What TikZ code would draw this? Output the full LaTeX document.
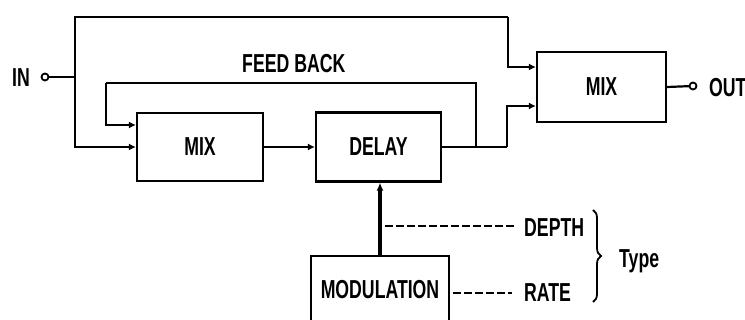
\documentclass[tikz,border=0pt]{standalone}
\usepackage{fontspec}
\setmainfont{Liberation Sans}
\newfontfamily\labfont[FakeStretch=0.68]{Liberation Sans Bold}
\usetikzlibrary{arrows.meta,decorations.pathreplacing}
\begin{document}
\begin{tikzpicture}[x=1pt,y=-1pt,
  txt/.style={font=\labfont\fontsize{26}{28}\selectfont},
  block/.style={draw, line width=2.2pt, inner sep=0pt, txt},
  lbl/.style={inner sep=0pt, anchor=base west, txt},
  wire/.style={line width=2.2pt},
  arr/.style={wire, -{Latex[length=7pt,width=7pt]}},
  dsh/.style={line width=1.8pt, dash pattern=on 8pt off 3pt},
  port/.style={circle, draw, line width=1.8pt, minimum size=7pt, inner sep=0pt, fill=white}]
\useasboundingbox (0,0) rectangle (745,320);
\clip (0,0) rectangle (745,320);
% blocks
\node[block, minimum width=126pt, minimum height=68pt] (mix1) at (200,147) {MIX};
\node[block, minimum width=125pt, minimum height=69pt] (delay) at (378.5,147) {DELAY};
\node[block, minimum width=129pt, minimum height=70pt] (mix2) at (601.5,87) {MIX};
\node[block, minimum width=138pt, minimum height=68pt] (mod) at (380,290) {MODULATION};
% labels
\node[lbl] (inl) at (12,87) {IN};
\node[lbl] (outl) at (709,97) {OUT};
\node[lbl] (fb) at (242,73) {FEED BACK};
\node[lbl] (depth) at (524,237) {DEPTH};
\node[lbl] (rate) at (524,302) {RATE};
\node[lbl] (type) at (619,268) {Type};
% junction coordinates
\coordinate (j) at (75,77);
\coordinate (top) at (75,17);
\coordinate (topr) at (508,17);
\coordinate (in2a) at (508,67);
\coordinate (dout) at (507,147);
\coordinate (in2b) at (507,106);
\coordinate (fbr) at (476,147);
\coordinate (fbtr) at (476,83);
\coordinate (fbtl) at (106,83);
\coordinate (fbin) at (106,125);
\coordinate (dstart) at (385,226);
\coordinate (rstart) at (453,293);
% connectors
\draw[wire] (j) -- (top) -- (topr);
\draw[arr] (topr) -- (in2a) -- (mix2.west |- in2a);
\draw[arr] (top) -- (j) |- (mix1.west);
\draw[arr] (mix1.east) -- (delay.west);
\draw[wire] (delay.east) -- (dout);
\draw[arr] (dout) -- (in2b) -- (mix2.west |- in2b);
\draw[wire] (fbr) -- (fbtr) -- (fbtl);
\draw[arr] (fbtl) -- (fbin) -- (mix1.west |- fbin);
\draw[wire] (mix2.east) -- (693,86);
\node[port] (out) at (693,86) {};
\node[port] (in) at (45,77) {};
\draw[wire] (in) -- (j);
\draw[line width=3.2pt, -{Latex[length=8pt,width=7pt]}] (mod.north) -- (mod.north |- delay.south);
\draw[dsh] (dstart) -- ([xshift=-8pt]depth.west |- dstart);
\draw[dsh] (rstart) -- ([xshift=-12pt]rate.west |- rstart);
\draw[decorate, decoration={brace, amplitude=8pt}, line width=1.8pt] (593,210) -- (593,302);
\end{tikzpicture}
\end{document}
